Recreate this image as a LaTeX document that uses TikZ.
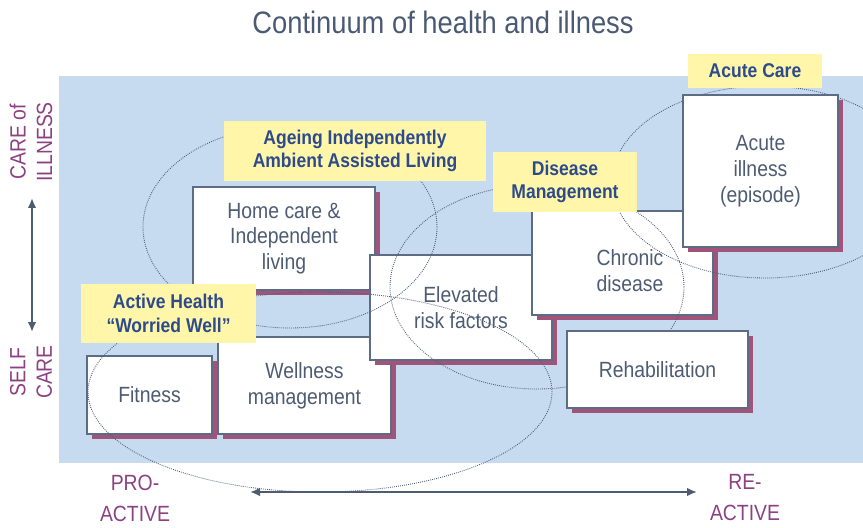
\documentclass[tikz,border=0pt]{standalone}
\usepackage{fontspec}
\setmainfont[FakeStretch=0.88]{Liberation Sans}
\usetikzlibrary{shapes.geometric,shadows,arrows.meta}

\definecolor{panelblue}{RGB}{198,218,240}
\definecolor{labelyellow}{RGB}{255,246,170}
\definecolor{shadowpurple}{RGB}{160,84,122}
\definecolor{boxline}{RGB}{92,108,135}
\definecolor{boxtext}{RGB}{78,92,115}
\definecolor{labeltext}{RGB}{45,75,140}
\definecolor{axispurple}{RGB}{140,65,130}
\definecolor{ringgray}{RGB}{80,95,120}
\definecolor{arrowgray}{RGB}{78,92,112}
\definecolor{titlecol}{RGB}{75,90,115}

\begin{document}
\begin{tikzpicture}[x=0.3mm,y=-0.3mm]
		\begin{scope}[scale=1]
		
		\tikzstyle{mytext}=[text=boxtext,
		align=center,
		inner sep=0pt,
		font=\fontsize{18.8pt}{22pt}\selectfont
		]
		\tikzstyle{mybox}=[mytext,
		rectangle,
		draw=boxline,
		line width=0.9pt,
		fill=white,
		drop shadow={shadow xshift=1.5mm, shadow yshift=-1.5mm, fill=shadowpurple, opacity=1}
		]
		\tikzstyle{mylabel}=[rectangle,
		fill=labelyellow,
		inner sep=0pt,
		text=labeltext,
		align=center,
		font=\bfseries\fontsize{17pt}{20pt}\selectfont
		]
		\tikzstyle{myring}=[ellipse,
		draw=ringgray,
		densely dotted,
		line width=0.75pt,
		inner sep=0pt
		]
		\tikzstyle{myaxis}=[text=axispurple,
		align=center,
		inner sep=0pt,
		font=\fontsize{18.8pt}{22.5pt}\selectfont
		]
		\tikzstyle{myarrow}=[{Latex[length=3mm,width=2.6mm]}-{Latex[length=3mm,width=2.6mm]},
		draw=arrowgray,
		line width=2pt
		]
		
		\useasboundingbox (0,0) rectangle (863,528);
		\clip (0,0) rectangle (863,528);
		
		\coordinate (ppanel1) at (59,76);
		\coordinate (ppanel2) at (863,463);
		
		\coordinate (pfit) at (149.5,395);
		\coordinate (pwell) at (304.5,385.5);
		\coordinate (phome) at (284,238.5);
		\coordinate (pelev) at (461,307.5);
		\coordinate (pchron) at (622.5,263);
		\coordinate (pacute) at (760.5,171);
		\coordinate (prehab) at (657.5,369.5);
		
		\coordinate (pring1) at (320,392);
		\coordinate (pring2) at (290,227);
		\coordinate (pring3) at (537,287);
		\coordinate (pring4) at (765,182);
		
		\coordinate (plab1) at (168.5,313.5);
		\coordinate (plab2) at (355,151);
		\coordinate (plab3) at (565,182);
		\coordinate (plab4) at (755,71);
		
		\fill[panelblue] (ppanel1) rectangle (ppanel2);
		
		\node[mybox, minimum width=37.5mm, minimum height=23.4mm] (fit) at (pfit) {Fitness};
		\node[mybox, minimum width=51.9mm, minimum height=29.1mm] (well) at (pwell) {Wellness\\management};
		\node[mybox, minimum width=54.6mm, minimum height=30.9mm] (home) at (phome) {Home care \&\\Independent\\living};
		\node[mybox, minimum width=54.6mm, minimum height=31.5mm] (elev) at (pelev) {Elevated\\risk factors};
		\node[mybox, minimum width=54.3mm, minimum height=31.2mm] (chron) at (pchron) {};
		\node[mytext] (chrontext) at (630,271) {Chronic\\disease};
		
		\node[myring, minimum width=139.2mm, minimum height=60mm] (ring1) at (pring1) {};
		\node[myring, minimum width=88.2mm, minimum height=60.6mm] (ring2) at (pring2) {};
		\node[myring, minimum width=88.2mm, minimum height=61.2mm] (ring3) at (pring3) {};
		\node[myring, minimum width=91.8mm, minimum height=57.6mm] (ring4) at (pring4) {};
		
		\node[mybox, minimum width=54.3mm, minimum height=23.1mm] (rehab) at (prehab) {Rehabilitation};
		\node[mybox, minimum width=46.5mm, minimum height=45.6mm] (acute) at (pacute) {Acute\\illness\\(episode)};
		
		\node[mylabel, minimum width=52.5mm, minimum height=17.7mm] (lab1) at (plab1) {Active Health\\“Worried Well”};
		\node[mylabel, minimum width=78.6mm, minimum height=18mm] (lab2) at (plab2) {Ageing Independently\\Ambient Assisted Living};
		\node[mylabel, minimum width=43.2mm, minimum height=18mm] (lab3) at (plab3) {Disease\\Management};
		\node[mylabel, minimum width=40.2mm, minimum height=10.2mm] (lab4) at (plab4) {Acute Care};
		
		\node[text=titlecol, font=\fontsize{26.5pt}{30pt}\selectfont] (title) at (443,22) {Continuum of health and illness};
		
		\node[myaxis, rotate=90] (careill) at (31,142) {CARE of\\ILLNESS};
		\node[myaxis, rotate=90] (selfcare) at (31,372) {SELF\\CARE};
		\node[myaxis] (proact) at (135,498) {PRO-\\[4pt]ACTIVE};
		\node[myaxis] (react) at (745,498) {RE-\\[4pt]ACTIVE};
		
		\coordinate (vtop) at (32,198);
		\coordinate (vbot) at (32,332);
		\coordinate (hleft) at (250,492);
		\coordinate (hright) at (697,492);
		
		\draw[myarrow] (vtop) -- (vbot);
		\draw[myarrow] (hleft) -- (hright);
		
		\end{scope}
		\end{tikzpicture}
\end{document}
